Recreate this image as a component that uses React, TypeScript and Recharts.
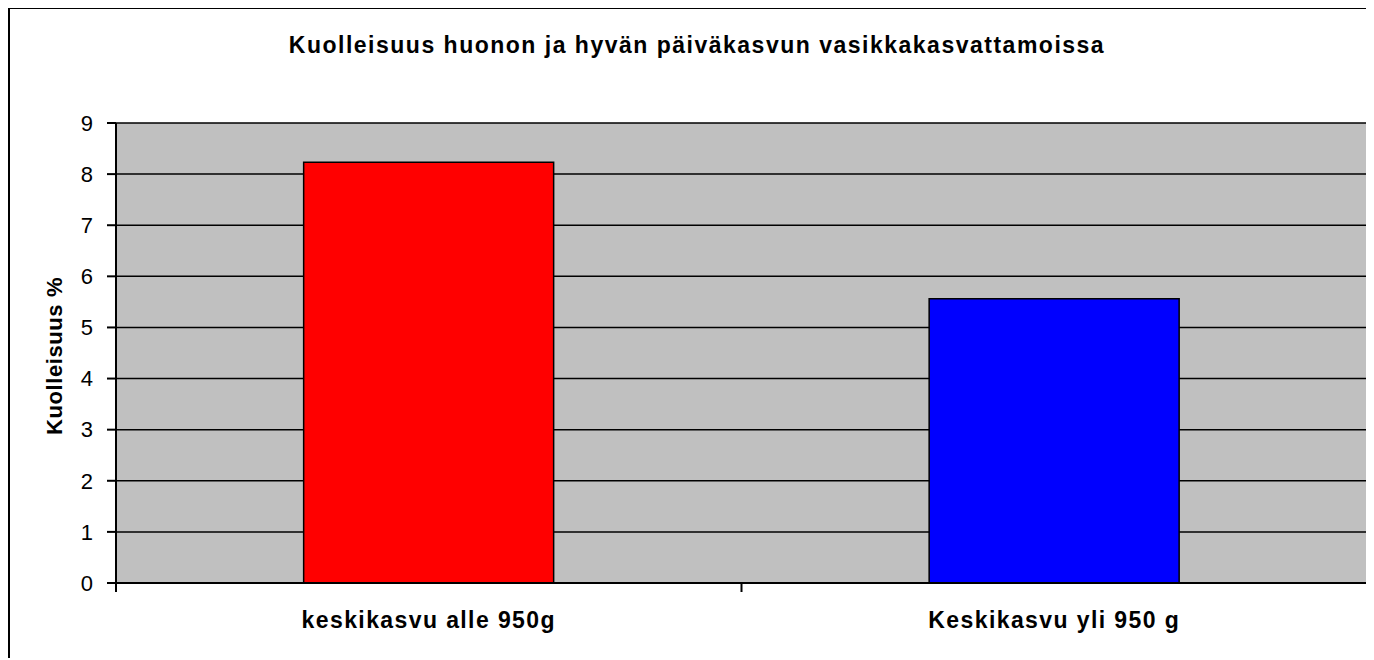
import React from 'react';
import { BarChart, Bar, XAxis, YAxis, CartesianGrid, Cell } from 'recharts';

// Tiedot kuvasta
const categories = ['keskikasvu alle 950g', 'Keskikasvu yli 950 g'];
const mortality = [8.23, 5.56];
const yTicks = [0, 1, 2, 3, 4, 5, 6, 7, 8, 9];
const barColors = ['#FF0000', '#0000FF'];

const data = categories.map((name, i) => ({ name, kuolleisuus: mortality[i] }));

const FONT = 'Arial, "Liberation Sans", sans-serif';

const CategoryTick = (props: any) => {
  const { x, y, payload, index } = props;
  const half = payload?.offset ?? 0;
  return (
    <g>
      <line x1={x - half} y1={y} x2={x - half} y2={y + 9} stroke="#000" strokeWidth={2} />
      {index === categories.length - 1 && (
        <line x1={x + half} y1={y} x2={x + half} y2={y + 9} stroke="#000" strokeWidth={2} />
      )}
      <text
        x={x}
        y={y + 45}
        textAnchor="middle"
        fontFamily={FONT}
        fontWeight="bold"
        fontSize={23}
        letterSpacing={1.4}
        fill="#000"
      >
        {payload.value}
      </text>
    </g>
  );
};

const YTitle = (props: any) => {
  const vb = props.viewBox || { x: 0, y: 0, width: 0, height: 0 };
  const cx = vb.x + 38;
  const cy = vb.y + vb.height / 2 + 3;
  return (
    <text
      x={cx}
      y={cy}
      transform={`rotate(-90, ${cx}, ${cy})`}
      textAnchor="middle"
      dominantBaseline="central"
      fontFamily={FONT}
      fontWeight="bold"
      fontSize={22}
      letterSpacing={0.6}
      fill="#000"
    >
      Kuolleisuus %
    </text>
  );
};

const App: React.FC = () => {
  return (
    <div style={{ position: 'relative', width: 1362, height: 650 }}>
      <div
        style={{
          position: 'absolute',
          left: 0,
          top: -1,
          width: 1366,
          height: 651,
          borderTop: '2px solid #000',
          borderLeft: '2px solid #000',
          boxSizing: 'border-box',
        }}
      />
      <div
        style={{
          position: 'absolute',
          left: 189,
          top: 26,
          width: 1000,
          textAlign: 'center',
          fontFamily: FONT,
          fontWeight: 'bold',
          fontSize: 23,
          lineHeight: '23px',
          letterSpacing: 1.5,
          color: '#000',
        }}
      >
        Kuolleisuus huonon ja hyvän päiväkasvun vasikkakasvattamoissa
      </div>
      <BarChart
        width={1362}
        height={650}
        data={data}
        margin={{ top: 115, right: 3, left: 8, bottom: 15 }}
        barCategoryGap="30%"
      >
        <CartesianGrid vertical={false} fill="#C0C0C0" fillOpacity={1} stroke="#000" strokeWidth={1.5} />
        <XAxis
          xAxisId="top"
          orientation="top"
          dataKey="name"
          height={0}
          tick={false}
          tickLine={false}
          axisLine={{ stroke: '#808080', strokeWidth: 2 }}
        />
        <YAxis
          yAxisId="right"
          orientation="right"
          width={0}
          domain={[0, 9]}
          ticks={yTicks}
          tick={false}
          tickLine={false}
          axisLine={{ stroke: '#808080', strokeWidth: 2 }}
        />
        <XAxis
          dataKey="name"
          height={60}
          tickSize={0}
          tickMargin={0}
          tickLine={false}
          interval={0}
          axisLine={{ stroke: '#000', strokeWidth: 2 }}
          tick={<CategoryTick />}
        />
        <YAxis
          width={100}
          domain={[0, 9]}
          ticks={yTicks}
          interval={0}
          tickSize={9}
          tickMargin={14}
          axisLine={{ stroke: '#000', strokeWidth: 2 }}
          tickLine={{ stroke: '#000', strokeWidth: 2 }}
          tick={{ fill: '#000', fontSize: 22, fontFamily: FONT }}
          label={{ content: <YTitle /> }}
        />
        <Bar dataKey="kuolleisuus" stroke="#000" strokeWidth={1.5} isAnimationActive={false}>
          {data.map((d, i) => (
            <Cell key={d.name} fill={barColors[i]} />
          ))}
        </Bar>
      </BarChart>
    </div>
  );
};

export default App;
